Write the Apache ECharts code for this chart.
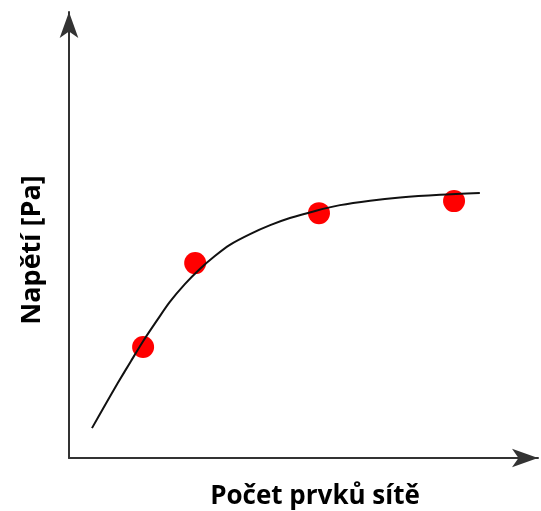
<!DOCTYPE html>
<html>
<head>
<meta charset="utf-8">
<script src="https://cdn.jsdelivr.net/npm/echarts@6/dist/echarts.min.js"></script>
<style>
  html, body { margin: 0; padding: 0; background: #fff; }
  #chart { width: 541px; height: 511px; }
</style>
</head>
<body>
<div id="chart"></div>
<script>
// naměřené body (červené kruhy)
const pointX = [15.8, 26.9, 53.3, 82.1]
const pointY = [24.9, 43.7, 54.9, 57.6]
// proložená křivka
const curveX = [4.9, 7.7, 10.4, 13.2, 16.0, 18.8, 21.5, 24.7, 27.9, 31.1, 34.3, 38.6, 42.9, 47.1, 52.5, 57.8, 64.2, 70.6, 79.1, 87.6]
const curveY = [6.7, 11.9, 16.8, 21.7, 26.5, 30.9, 35.0, 39.0, 42.4, 45.3, 47.8, 50.2, 52.2, 53.8, 55.4, 56.7, 57.7, 58.4, 59.0, 59.4]
const xName = 'Počet prvků sítě'
const yName = 'Napětí [Pa]'

const chart = echarts.init(document.getElementById('chart'))

const axisCommon = {
  type: 'value',
  min: 0,
  max: 100,
  axisLine: {
    show: true,
    symbol: ['none', 'arrow'],
    symbolSize: [14, 26],
    lineStyle: { color: '#333', width: 2 },
  },
  axisTick: { show: false },
  axisLabel: { show: false },
  splitLine: { show: false },
}

chart.setOption({
  animation: false,
  grid: { left: 69, right: 3, top: 12, bottom: 53 },
  xAxis: Object.assign({}, axisCommon),
  yAxis: Object.assign({}, axisCommon),
  graphic: [
    {
      type: 'text',
      x: 315, y: 497,
      style: {
        text: xName,
        font: 'bold 26px "Open Sans"',
        fill: '#000',
        align: 'center',
        verticalAlign: 'middle',
      },
    },
    {
      type: 'text',
      x: 32, y: 250,
      rotation: Math.PI / 2,
      style: {
        text: yName,
        font: 'bold 27px "Open Sans"',
        fill: '#000',
        align: 'center',
        verticalAlign: 'middle',
      },
    },
  ],
  series: [
    {
      type: 'scatter',
      symbolSize: 22,
      itemStyle: { color: '#ff0000', opacity: 1 },
      data: pointX.map((x, i) => [x, pointY[i]]),
      z: 2,
    },
    {
      type: 'line',
      smooth: 0.3,
      symbol: 'none',
      lineStyle: { color: '#111', width: 2 },
      data: curveX.map((x, i) => [x, curveY[i]]),
      z: 3,
    },
  ],
})
</script>
</body>
</html>
